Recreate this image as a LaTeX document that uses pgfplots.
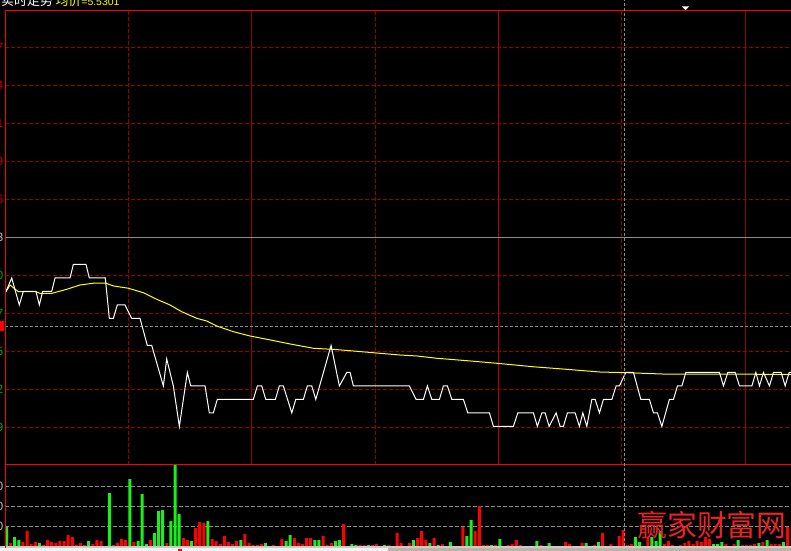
\documentclass[border=0pt]{standalone}
\usepackage{fontspec}
\usepackage{pgfplots}
\pgfplotsset{compat=1.18}
\setmainfont{Liberation Sans}
\newfontfamily\cjk{Noto Sans CJK SC}
\definecolor{gridred}{RGB}{150,0,0}
\definecolor{noonred}{RGB}{185,0,0}
\definecolor{edgered}{RGB}{255,0,0}
\definecolor{volred}{RGB}{255,0,0}
\definecolor{volgreen}{RGB}{24,240,24}
\definecolor{lblgreen}{RGB}{0,168,0}
\definecolor{lblred}{RGB}{200,0,0}
\definecolor{lblgray}{RGB}{190,190,190}
\definecolor{gline}{RGB}{140,140,140}
\definecolor{avgyellow}{RGB}{255,255,0}
\definecolor{wmred}{RGB}{235,35,35}
\begin{document}
\begin{tikzpicture}
\fill[black] (0,0) rectangle (791bp,551bp);
% ---------------- price panel ----------------
\begin{axis}[
  at={(5bp,86bp)}, anchor=south west,
  scale only axis, width=786bp, height=455bp,
  xmin=0, xmax=191.2, ymin=5.4614, ymax=5.7986,
  axis line style={draw=none},
  xtick=\empty,
  ytick={5.4895,5.5176,5.5457,5.5738,5.6019,5.63,5.6581,5.6862,5.7143,5.7424,5.7705},
  yticklabels={\textcolor{lblgreen}{5.49},\textcolor{lblgreen}{5.52},\textcolor{lblgreen}{5.55},\textcolor{lblgreen}{5.57},\textcolor{lblgreen}{5.60},\textcolor{lblgray}{5.63},\textcolor{lblred}{5.66},\textcolor{lblred}{5.69},\textcolor{lblred}{5.71},\textcolor{lblred}{5.74},\textcolor{lblred}{5.77}},
  major tick length=0pt, tick style={draw=none},
  yticklabel style={anchor=east, inner sep=0pt, xshift=-1.5bp, font=\fontsize{12}{12}\selectfont},
]
\pgfplotsinvokeforeach{5.4895,5.5176,5.5457,5.5738,5.6019,5.6581,5.6862,5.7143,5.7424,5.7705}{
  \draw[gridred, line width=1bp, dash pattern=on 4bp off 2bp] (axis cs:0,#1) -- (axis cs:191.2,#1);}
\pgfplotsinvokeforeach{30.05,90.15,150.0}{
  \draw[gridred, line width=1bp, dash pattern=on 4bp off 2bp] (axis cs:#1,5.4614) -- (axis cs:#1,5.7986);}
\pgfplotsinvokeforeach{59.98,180.17}{
  \draw[gridred, line width=1bp] (axis cs:#1,5.4614) -- (axis cs:#1,5.7986);}
\draw[noonred, line width=1bp] (axis cs:119.95,5.4614) -- (axis cs:119.95,5.7986);
\draw[gline, line width=1bp] (axis cs:0,5.63) -- (axis cs:191.2,5.63);
\draw[gline, line width=1bp, dash pattern=on 3bp off 2bp] (axis cs:0,5.5637) -- (axis cs:191.2,5.5637);
% average price (yellow)
\addplot[avgyellow, line width=1bp] coordinates {
(0.24,5.5898) (1.22,5.5948) (3.24,5.5898) (7.54,5.5898) (8.52,5.5886) (11.36,5.5886) (15.01,5.5916) (18.25,5.5948) (21.48,5.5961) (24.57,5.5961) (26.35,5.5941) (30.0,5.5924) (33.65,5.5891) (36.91,5.5842) (40.15,5.5800) (42.99,5.5750) (46.64,5.5701) (49.08,5.5681) (51.51,5.5644) (55.55,5.5602) (59.61,5.5570) (63.67,5.5546) (69.34,5.5511) (75.01,5.5479) (79.88,5.5471) (83.94,5.5461) (89.61,5.5446) (96.11,5.5429) (100.17,5.5422) (105.04,5.5405) (112.34,5.5387) (119.64,5.5368) (128.54,5.5342) (136.67,5.5323) (144.77,5.5303) (151.27,5.5298) (160.17,5.5288) (191.2,5.5286)};
% price (white)
\addplot[white, line width=1bp] coordinates {
(0.24,5.59) (1.63,5.60) (3.48,5.58) (4.45,5.59) (7.54,5.59) (8.35,5.58) (9.17,5.59) (11.36,5.59) (12.17,5.60) (15.82,5.60) (16.62,5.61) (19.71,5.61) (20.51,5.60) (24.40,5.60) (25.38,5.57) (26.35,5.57) (27.32,5.58) (29.20,5.58) (30.83,5.57) (32.85,5.57) (34.62,5.55) (35.69,5.55) (38.52,5.52) (39.34,5.54) (40.95,5.52) (42.41,5.49) (44.36,5.53) (45.18,5.52) (48.66,5.52) (49.71,5.50) (50.68,5.50) (51.65,5.51) (60.41,5.51) (61.39,5.52) (62.46,5.52) (63.43,5.51) (65.77,5.51) (66.74,5.52) (67.71,5.52) (69.76,5.50) (70.73,5.51) (72.58,5.51) (73.55,5.52) (74.62,5.52) (75.60,5.51) (79.32,5.55) (81.34,5.52) (83.14,5.53) (83.94,5.53) (84.74,5.52) (98.37,5.52) (100.0,5.51) (101.78,5.51) (102.75,5.52) (103.82,5.51) (105.67,5.51) (106.64,5.52) (107.62,5.52) (108.69,5.51) (111.51,5.51) (112.58,5.50) (117.84,5.50) (118.81,5.49) (123.67,5.49) (124.74,5.50) (128.54,5.50) (129.51,5.49) (130.58,5.50) (131.39,5.50) (132.36,5.49) (134.06,5.50) (135.04,5.49) (135.84,5.49) (136.81,5.50) (138.69,5.50) (139.73,5.49) (140.56,5.50) (141.53,5.49) (142.75,5.51) (143.55,5.51) (144.60,5.50) (145.57,5.51) (147.62,5.51) (148.66,5.52) (149.46,5.52) (151.02,5.53) (152.87,5.53) (154.67,5.51) (156.76,5.51) (157.74,5.50) (158.71,5.50) (159.78,5.49) (161.62,5.51) (162.60,5.51) (163.58,5.52) (164.65,5.52) (165.62,5.53) (173.80,5.53) (174.77,5.52) (175.84,5.53) (177.62,5.53) (178.66,5.52) (181.68,5.52) (182.65,5.53) (183.53,5.52) (184.50,5.53) (185.96,5.52) (186.93,5.53) (188.81,5.53) (189.78,5.52) (190.75,5.53) (191.2,5.53)};
\end{axis}
% ---------------- volume panel ----------------
\begin{axis}[
  at={(5bp,5bp)}, anchor=south west,
  scale only axis, width=786bp, height=81bp,
  xmin=0, xmax=191.2, ymin=0, ymax=4050,
  axis line style={draw=none},
  xtick=\empty,
  ytick={1000,2000,3000},
  yticklabels={\textcolor{lblgray}{1000},\textcolor{lblgray}{2000},\textcolor{lblgray}{3000}},
  major tick length=0pt, tick style={draw=none},
  yticklabel style={anchor=east, inner sep=0pt, xshift=-1.5bp, font=\fontsize{12}{12}\selectfont},
]
\pgfplotsinvokeforeach{1000,2000,3000}{
  \draw[gline, line width=1bp, dash pattern=on 4bp off 2bp] (axis cs:0,#1) -- (axis cs:191.2,#1);}
\addplot[ybar, bar width=3bp, bar shift=1.5bp, fill=volred, draw=none] coordinates {
(1,150) (4,200) (5,750) (6,100) (7,200) (9,50) (10,300) (11,200) (12,150) (13,250) (14,250) (15,550) (16,450) (17,50) (18,150) (19,50) (21,100) (22,300) (23,250) (26,50) (27,150) (28,350) (29,300) (31,200) (35,300) (39,150) (43,400) (44,300) (46,900) (47,1200) (48,1150) (50,350) (51,250) (52,100) (53,500) (54,200) (55,100) (56,250) (58,600) (59,150) (60,50) (61,50) (62,100) (65,50) (67,350) (70,400) (71,150) (72,100) (73,400) (74,400) (77,500) (78,50) (79,150) (82,1100) (86,50) (87,50) (89,50) (90,100) (93,50) (95,650) (96,150) (98,150) (100,400) (101,750) (102,300) (104,400) (106,100) (111,950) (114,750) (115,2000) (116,50) (117,50) (119,50) (122,50) (123,100) (124,300) (125,50) (130,50) (136,200) (137,100) (140,150) (143,50) (145,650) (147,100) (149,500) (150,800) (151,50) (152,100) (156,450) (160,100) (161,250) (162,50) (164,50) (165,150) (166,250) (167,100) (168,250) (169,200) (170,450) (171,350) (175,100) (177,100) (179,50) (180,50) (181,50) (182,100) (184,200) (186,100) (187,100) (188,100) (190,950)};
\addplot[ybar, bar width=3bp, bar shift=1.5bp, fill=volgreen, draw=none] coordinates {
(0,950) (2,450) (3,300) (8,150) (20,250) (25,2650) (30,3350) (32,250) (33,2600) (34,100) (36,650) (37,1750) (38,1800) (40,1250) (41,4050) (42,1600) (45,250) (49,1250) (57,300) (63,150) (68,250) (69,550) (75,300) (76,300) (80,250) (81,300) (84,100) (85,50) (88,50) (92,50) (99,300) (103,150) (105,50) (108,200) (112,500) (113,1300) (118,50) (120,350) (129,250) (132,150) (141,150) (144,200) (153,450) (154,200) (157,450) (158,250) (159,750) (172,100) (173,100) (174,200) (178,300) (183,150) (185,300) (189,200)};
\end{axis}
% ---------------- frame and decorations ----------------
\begin{scope}[x=1bp,y=1bp]
\fill[lblgray!80] (0,2.7) rectangle (791,5);
\fill[white!90!gray] (0,0) rectangle (388,2.7);
\fill[gray!70!brown!60] (388,0) rectangle (791,2.7);
\fill[edgered] (178,0) rectangle (182,1.7);
\draw[edgered, line width=1bp] (5.5,3) -- (5.5,540.5) -- (791,540.5);
\draw[edgered, line width=1bp] (5,86) -- (791,86);
\draw[gline, line width=1bp, dash pattern=on 3bp off 2bp] (624.5,5) -- (624.5,551);
\fill[edgered] (0,220) rectangle (4,230);
\fill[white] (682,544.5) -- (689,544.5) -- (685.5,540.8) -- cycle;
\node[anchor=base west, inner sep=0pt] at (1,545.3) {\cjk\fontsize{13}{13}\selectfont\textcolor{white}{实时走势}\hspace{2.5bp}\textcolor{avgyellow}{均价\fontspec{Liberation Sans}\fontsize{10.5}{10.5}\selectfont=5.5301}};
\node[anchor=base, inner sep=0pt] at (712,15) {\cjk\fontsize{30}{30}\selectfont\textcolor{wmred}{赢家财富网}};
\end{scope}
\pgfresetboundingbox
\useasboundingbox (0,0) rectangle (791bp,551bp);
\end{tikzpicture}
\end{document}
